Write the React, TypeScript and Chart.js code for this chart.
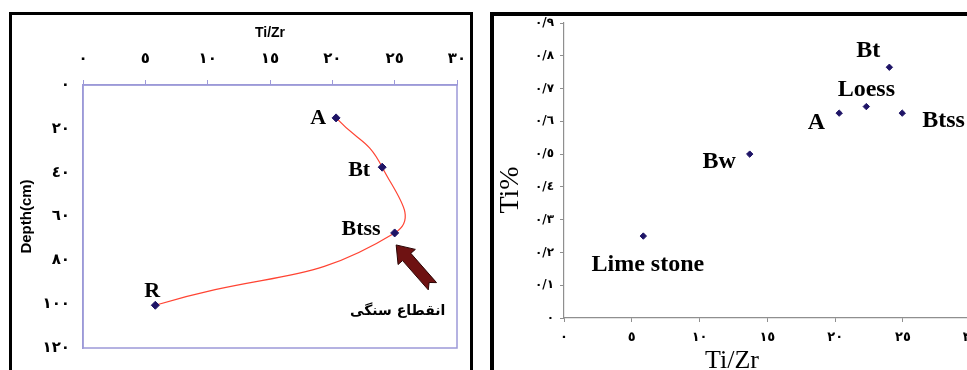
import React, { useEffect, useRef } from 'react';
import { Chart, registerables } from 'chart.js';

Chart.register(...registerables);

// ---------- data ----------
// Left panel: Ti/Zr ratio against depth for the soil profile horizons
const profileHorizons = ['A', 'Bt', 'Btss', 'R'];
const profileTiZr = [20.3, 24.0, 25.0, 5.8];
const profileDepthCm = [15, 37.5, 67.5, 100.5];

// Right panel: Ti% against Ti/Zr for the samples
const sampleNames = ['Lime stone', 'Bw', 'A', 'Loess', 'Bt', 'Btss'];
const sampleTiZr = [5.85, 13.7, 20.3, 22.3, 24.0, 24.95];
const sampleTiPct = [0.25, 0.5, 0.625, 0.645, 0.765, 0.625];

// Axis ticks and their (Arabic-Indic) labels
const tiZrTickValues = [0, 5, 10, 15, 20, 25, 30];
const tiZrTickLabels = ['٠', '٥', '١٠', '١٥', '٢٠', '٢٥', '٣٠'];
const depthTickValues = [0, 20, 40, 60, 80, 100, 120];
const depthTickLabels = ['٠', '٢٠', '٤٠', '٦٠', '٨٠', '١٠٠', '١٢٠'];
const tiPctTickValues = [0, 0.1, 0.2, 0.3, 0.4, 0.5, 0.6, 0.7, 0.8, 0.9];
const tiPctTickLabels = ['٠', '٠/١', '٠/٢', '٠/٣', '٠/٤', '٠/٥', '٠/٦', '٠/٧', '٠/٨', '٠/٩'];

const annotationText = 'انقطاع سنگی';

// ---------- styles ----------
const PURPLE = '#9c99d8';
const GRAY = '#8f8f8f';
const RED = '#ff4433';
const NAVY = '#1e1466';
const SERIF = '"Liberation Serif", "Times New Roman", serif';
const SANS = '"Liberation Sans", Arial, sans-serif';
const DIGITS = '"DejaVu Sans", sans-serif';

// label placement: [align, dx, dy] relative to the marker
const profileLabelPlacement: Record<string, [CanvasTextAlign, number, number]> = {
  A: ['right', -10, 0],
  Bt: ['right', -12, 3],
  Btss: ['right', -14, -3.5],
  R: ['center', -3, -14],
};
const sampleLabelPlacement: Record<string, [CanvasTextAlign, number, number]> = {
  'Lime stone': ['center', 4.5, 29],
  Bw: ['right', -14, 8],
  A: ['right', -14, 10],
  Loess: ['center', 0, -16.5],
  Bt: ['center', -21, -16],
  Btss: ['left', 20, 8],
};

const leftDecor = {
  id: 'leftDecor',
  beforeDatasetsDraw(chart: any) {
    const { ctx, chartArea: a } = chart;
    ctx.save();
    ctx.strokeStyle = PURPLE;
    ctx.lineWidth = 1.5;
    ctx.strokeRect(a.left, a.top, a.right - a.left, a.bottom - a.top);
    ctx.restore();
  },
  afterDatasetsDraw(chart: any) {
    const { ctx } = chart;
    const meta = chart.getDatasetMeta(0);
    ctx.save();
    ctx.fillStyle = '#000';
    ctx.font = `bold 22px ${SERIF}`;
    ctx.textBaseline = 'middle';
    meta.data.forEach((pt: any, i: number) => {
      const name = profileHorizons[i];
      const [align, dx, dy] = profileLabelPlacement[name];
      ctx.textAlign = align;
      ctx.fillText(name, pt.x + dx, pt.y + dy);
    });

    // block arrow pointing at the Btss marker
    const btss = meta.data[profileHorizons.indexOf('Btss')];
    const tip = { x: btss.x + 1.5, y: btss.y + 12 };
    const ux = -0.659, uy = -0.751; // direction tail -> tip
    const nx = 0.751, ny = -0.659;
    const headLen = 16, headHalf = 11.5, shaftHalf = 5.5, len = 55, notch = 5;
    const bx = tip.x - ux * headLen, by = tip.y - uy * headLen;
    const ex = tip.x - ux * len, ey = tip.y - uy * len;
    ctx.beginPath();
    ctx.moveTo(tip.x, tip.y);
    ctx.lineTo(bx + nx * headHalf, by + ny * headHalf);
    ctx.lineTo(bx + nx * shaftHalf, by + ny * shaftHalf);
    ctx.lineTo(ex + nx * shaftHalf, ey + ny * shaftHalf);
    ctx.lineTo(ex + ux * notch, ey + uy * notch);
    ctx.lineTo(ex - nx * shaftHalf, ey - ny * shaftHalf);
    ctx.lineTo(bx - nx * shaftHalf, by - ny * shaftHalf);
    ctx.lineTo(bx - nx * headHalf, by - ny * headHalf);
    ctx.closePath();
    ctx.fillStyle = '#6e1212';
    ctx.fill();
    ctx.strokeStyle = '#2a0404';
    ctx.lineWidth = 1;
    ctx.stroke();

    ctx.fillStyle = '#000';
    ctx.font = `bold 14px ${DIGITS}`;
    ctx.textAlign = 'center';
    ctx.textBaseline = 'middle';
    ctx.fillText(annotationText, btss.x + 3, btss.y + 78);
    ctx.restore();
  },
};

const rightDecor = {
  id: 'rightDecor',
  afterDatasetsDraw(chart: any) {
    const { ctx, chartArea: a } = chart;
    const meta = chart.getDatasetMeta(0);
    ctx.save();
    ctx.fillStyle = '#000';
    ctx.font = `bold 24px ${SERIF}`;
    ctx.textBaseline = 'middle';
    meta.data.forEach((pt: any, i: number) => {
      const name = sampleNames[i];
      const [align, dx, dy] = sampleLabelPlacement[name];
      ctx.textAlign = align;
      ctx.fillText(name, pt.x + dx, pt.y + dy);
    });
    // axis titles
    ctx.font = `26px ${SERIF}`;
    ctx.textAlign = 'center';
    ctx.textBaseline = 'alphabetic';
    ctx.fillText('Ti/Zr', a.left + 168, a.bottom + 50);
    ctx.save();
    ctx.translate(a.left - 53, a.top + 167);
    ctx.rotate(-Math.PI / 2);
    ctx.font = `28px ${SERIF}`;
    ctx.textBaseline = 'middle';
    ctx.fillText('Ti%', 0, 0);
    ctx.restore();
    ctx.restore();
  },
};

export default function App() {
  const leftRef = useRef<HTMLCanvasElement>(null);
  const rightRef = useRef<HTMLCanvasElement>(null);

  useEffect(() => {
    const left = new Chart(leftRef.current!, {
      type: 'scatter',
      data: {
        datasets: [
          {
            data: profileTiZr.map((x, i) => ({ x, y: profileDepthCm[i] })),
            showLine: true,
            tension: 0.5,
            borderColor: RED,
            borderWidth: 1.2,
            pointStyle: 'rectRot',
            pointRadius: 4,
            pointBackgroundColor: NAVY,
            pointBorderColor: NAVY,
            pointBorderWidth: 1,
          },
        ],
      },
      options: {
        responsive: false,
        animation: false,
        devicePixelRatio: 1,
        layout: { padding: { left: 12, top: 15, right: 23, bottom: 12 } },
        plugins: { legend: { display: false }, tooltip: { enabled: false } },
        scales: {
          x: {
            type: 'linear',
            position: 'top',
            min: 0,
            max: 30,
            afterBuildTicks: (s: any) => {
              s.ticks = tiZrTickValues.map((value) => ({ value }));
            },
            afterFit: (s: any) => {
              s.height = 70;
            },
            ticks: {
              callback: (_v: any, i: number) => tiZrTickLabels[i],
              font: { family: DIGITS, size: 15, weight: 'bold' },
              color: '#000',
              padding: 12,
              maxRotation: 0,
              autoSkip: false,
            },
            grid: { drawOnChartArea: false, drawTicks: true, tickLength: 5, color: PURPLE },
            border: { color: PURPLE, width: 1.5 },
            title: {
              display: true,
              text: 'Ti/Zr',
              font: { family: SANS, size: 14, weight: 'bold' },
              color: '#000',
              padding: { top: 10, bottom: 0 },
            },
          },
          y: {
            type: 'linear',
            reverse: true,
            min: 0,
            max: 120,
            afterBuildTicks: (s: any) => {
              s.ticks = depthTickValues.map((value) => ({ value }));
            },
            afterFit: (s: any) => {
              s.width = 71;
            },
            ticks: {
              callback: (_v: any, i: number) => depthTickLabels[i],
              font: { family: DIGITS, size: 15, weight: 'bold' },
              color: '#000',
              padding: 13,
              autoSkip: false,
            },
            grid: { drawOnChartArea: false, drawTicks: false, color: PURPLE },
            border: { color: PURPLE, width: 1.5 },
            title: {
              display: true,
              text: 'Depth(cm)',
              font: { family: SANS, size: 15, weight: 'bold' },
              color: '#000',
              padding: { top: 5.7, bottom: 0 },
            },
          },
        },
      },
      plugins: [leftDecor],
    } as any);

    const right = new Chart(rightRef.current!, {
      type: 'scatter',
      data: {
        datasets: [
          {
            data: sampleTiZr.map((x, i) => ({ x, y: sampleTiPct[i] })),
            pointStyle: 'rectRot',
            pointRadius: 3.2,
            pointBackgroundColor: NAVY,
            pointBorderColor: NAVY,
            pointBorderWidth: 1,
          },
        ],
      },
      options: {
        responsive: false,
        animation: false,
        devicePixelRatio: 1,
        layout: { padding: { left: 15, top: 23, right: 39.3, bottom: 0 } },
        plugins: { legend: { display: false }, tooltip: { enabled: false } },
        scales: {
          x: {
            type: 'linear',
            min: 0,
            max: 30,
            afterBuildTicks: (s: any) => {
              s.ticks = tiZrTickValues.map((value) => ({ value }));
            },
            afterFit: (s: any) => {
              s.height = 52;
            },
            ticks: {
              callback: (_v: any, i: number) => tiZrTickLabels[i],
              font: { family: DIGITS, size: 13, weight: 'bold' },
              color: '#000',
              padding: 8,
              maxRotation: 0,
              autoSkip: false,
            },
            grid: { drawOnChartArea: false, drawTicks: true, tickLength: 4, color: GRAY },
            border: { color: GRAY, width: 1.2 },
          },
          y: {
            type: 'linear',
            min: 0,
            max: 0.9,
            afterBuildTicks: (s: any) => {
              s.ticks = tiPctTickValues.map((value) => ({ value }));
            },
            afterFit: (s: any) => {
              s.width = 69;
            },
            ticks: {
              callback: (_v: any, i: number) => tiPctTickLabels[i],
              font: { family: DIGITS, size: 12, weight: 'bold' },
              color: '#000',
              padding: 6,
              autoSkip: false,
            },
            grid: { drawOnChartArea: false, drawTicks: true, tickLength: 4, color: GRAY },
            border: { color: GRAY, width: 1.2 },
          },
        },
      },
      plugins: [rightDecor],
    } as any);

    return () => {
      left.destroy();
      right.destroy();
    };
  }, []);

  return (
    <div
      style={{
        position: 'fixed',
        left: 0,
        top: 0,
        width: 967,
        height: 370,
        overflow: 'hidden',
        background: '#fff',
      }}
    >
      <div
        style={{
          position: 'absolute',
          left: 9,
          top: 12,
          width: 464,
          height: 420,
          border: '3px solid #000',
          boxSizing: 'border-box',
        }}
      />
      <div
        style={{
          position: 'absolute',
          left: 490,
          top: 12,
          width: 600,
          height: 420,
          border: '4px solid #000',
          boxSizing: 'border-box',
        }}
      />
      <canvas ref={leftRef} width={480} height={370} style={{ position: 'absolute', left: 0, top: 0 }} />
      <canvas ref={rightRef} width={530} height={370} style={{ position: 'absolute', left: 480, top: 0 }} />
    </div>
  );
}
